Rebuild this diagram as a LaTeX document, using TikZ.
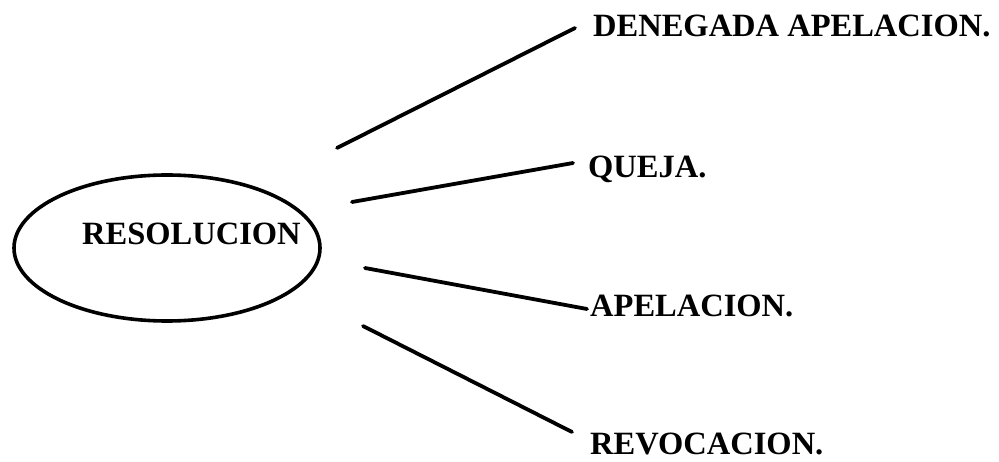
\documentclass[tikz,border=0pt]{standalone}
\usepackage{fontspec}
\setmainfont{Liberation Serif}
\usetikzlibrary{shapes.geometric}
\begin{document}
\begin{tikzpicture}[x=1pt,y=-1pt,
  lbl/.style={anchor=base west,inner sep=0pt,font=\fontsize{32.5}{36}\selectfont\bfseries},
  conn/.style={line width=3.8pt,line cap=round},
  oval/.style={draw,ellipse,line width=3.6pt,minimum width=306pt,minimum height=146pt,inner sep=0pt}]
\useasboundingbox (0,0) rectangle (999,462);
\node[oval] (res) at (167,248) {};
\node[lbl] (tres) at (82,245) {RESOLUCION};
\node[lbl] (t1) at (593,37) {DENEGADA APELACION.};
\node[lbl] (t2) at (588,178) {QUEJA.};
\node[lbl] (t3) at (590,317) {APELACION.};
\node[lbl] (t4) at (590,454) {REVOCACION.};
\coordinate (s1) at (337,148); \coordinate (e1) at (575,28);
\coordinate (s2) at (352,202); \coordinate (e2) at (573,163);
\coordinate (s3) at (365,268); \coordinate (e3) at (587,309);
\coordinate (s4) at (363,326); \coordinate (e4) at (572,432);
\draw[conn] (s1) -- (e1);
\draw[conn] (s2) -- (e2);
\draw[conn] (s3) -- (e3);
\draw[conn] (s4) -- (e4);
\end{tikzpicture}
\end{document}
